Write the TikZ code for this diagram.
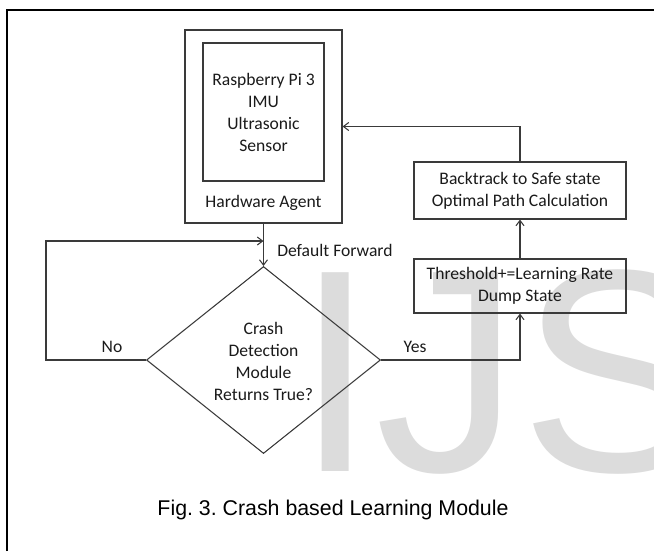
\documentclass[tikz,border=0pt]{standalone}
\usepackage{fontspec}
\setmainfont{Carlito}
\newfontfamily\capfont{Liberation Sans}
\usetikzlibrary{shapes.geometric,arrows.meta}
\definecolor{wm}{HTML}{DCDCDC}
\definecolor{ln}{HTML}{3A3A3A}
\definecolor{tx}{HTML}{1A1A1A}
\frenchspacing
\begin{document}
\begin{tikzpicture}[x=0.75pt,y=-0.75pt,
  lbl/.style={inner sep=0pt,text=tx,font=\fontsize{13.2}{16.5}\selectfont,align=center},
  box/.style={draw=ln,line width=0.8pt,inner sep=0pt},
  arr/.style={draw=ln,line width=0.8pt,-{Straight Barb[length=4pt,width=6pt]}},
  conn/.style={draw=ln,line width=0.8pt}]
\useasboundingbox (0,0) rectangle (654,551);
% watermark
\begin{scope}
\clip (0,0) rectangle (654,551);
\node[inner sep=0pt,anchor=base west,text=wm,font=\capfont\fontsize{216.75}{220}\selectfont] (wmk) at (295,471) {IJS};
\end{scope}
% frame (top and left only)
\draw[black,line width=1.6pt] (7,551) -- (7,10) -- (654,10);
% hardware agent
\node[box,minimum width=117.75pt,minimum height=144.75pt] (hw) at (263.5,126.5) {};
\node[box,lbl,minimum width=90.75pt,minimum height=103.5pt] (imu) at (263.5,112) {Raspberry Pi 3\\IMU\\Ultrasonic\\Sensor};
\node[lbl] (hwl) at (263.5,203) {Hardware Agent};
% right boxes
\node[box,lbl,minimum width=159pt,minimum height=42.75pt] (bt) at (520,190.5) {Backtrack to Safe state\\Optimal Path Calculation};
\node[box,lbl,minimum width=159pt,minimum height=40.5pt] (thr) at (520,286) {Threshold+=Learning Rate\\Dump State};
% decision
\node[draw=ln,line width=0.8pt,diamond,aspect=1.25,inner sep=0pt,minimum width=175.5pt,minimum height=140.25pt] (dia) at (263.5,360) {};
\node[lbl] (dial) at (263.5,361) {Crash\\Detection\\Module\\Returns True?};
% connectors
\coordinate (nojoin) at (263.5,241);
\draw[arr] (hw.south) -- (dia.north);
\draw[arr] (dia.west) -- ++(-100,0) |- (nojoin);
\draw[arr] (dia.east) -| (thr.south);
\draw[arr] (thr.north) -- (bt.south);
\draw[arr] (bt.north) |- (hw.east);
% labels
\node[lbl,anchor=west] (df) at (277,250) {Default Forward};
\node[lbl] (no) at (112,347) {No};
\node[lbl] (yes) at (415,347) {Yes};
% caption
\node[inner sep=0pt,text=black,font=\capfont\fontsize{16}{19}\selectfont] (cap) at (333,510) {Fig. 3. Crash based Learning Module};
\end{tikzpicture}
\end{document}
